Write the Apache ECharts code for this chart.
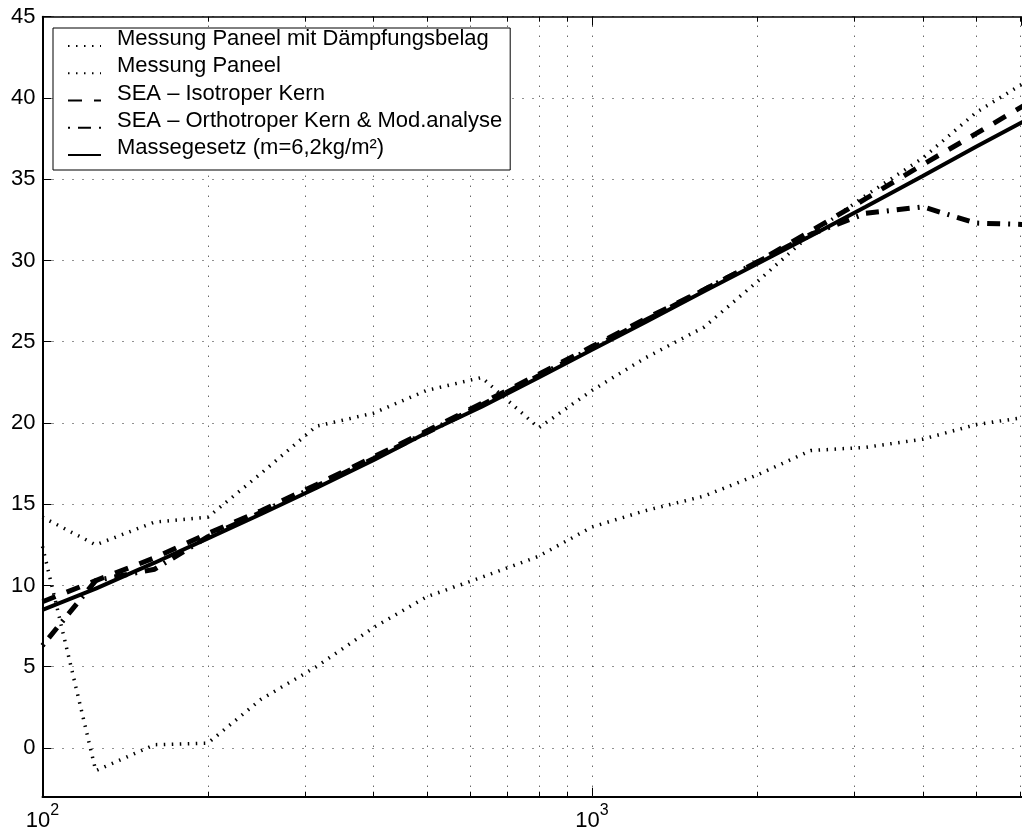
<!DOCTYPE html>
<html>
<head>
<meta charset="utf-8">
<script src="https://cdn.jsdelivr.net/npm/echarts@6/dist/echarts.min.js"></script>
<style>
  html, body { margin: 0; padding: 0; background: #fff; }
  #chart { width: 1022px; height: 832px; }
</style>
</head>
<body>
<div id="chart"></div>
<script>
// Third-octave band centre frequencies (Hz)
const freqs = [100, 125, 160, 200, 250, 315, 400, 500, 630, 800, 1000, 1250, 1600, 2000, 2500, 3150, 4000, 5000, 6300];

// Sound reduction index R (dB) per band
const dampedPanel   = [14.2, 12.5, 13.9, 14.2, 16.9, 19.8, 20.6, 22.0, 22.8, 19.7, 22.0, 24.0, 25.9, 28.7, 31.6, 34.0, 36.3, 39.1, 41.2];
const plainPanel    = [12.4, -1.4, 0.2, 0.3, 3.0, 5.0, 7.4, 9.3, 10.5, 11.8, 13.6, 14.6, 15.5, 16.8, 18.3, 18.5, 19.0, 19.9, 20.4];
const seaIsotropic  = [9.0, 10.3, 11.7, 13.2, 14.6, 16.2, 17.9, 19.5, 21.2, 23.0, 24.7, 26.4, 28.2, 29.9, 31.8, 33.8, 35.9, 37.8, 39.8];
const seaOrthotropic= [6.3, 10.3, 11.0, 13.0, 14.5, 16.1, 17.8, 19.4, 21.1, 22.9, 24.6, 26.3, 28.2, 29.9, 31.6, 32.9, 33.3, 32.3, 32.2];
const massLaw       = [8.5, 9.8, 11.4, 12.9, 14.4, 16.0, 17.7, 19.4, 21.0, 22.8, 24.5, 26.2, 28.1, 29.8, 31.5, 33.3, 35.2, 37.0, 38.8];

const seriesNames = [
  'Messung Paneel mit Dämpfungsbelag',
  'Messung Paneel',
  'SEA – Isotroper Kern',
  'SEA – Orthotroper Kern & Mod.analyse',
  'Massegesetz (m=6,2kg/m²)'
];

// Axis ranges and log-axis grid positions
const xRange = [100, 6050];
const yRange = [-3, 45];
const xMajorTicks = [100, 1000];
const xMinorTicks = [200, 300, 400, 500, 600, 700, 800, 900, 2000, 3000, 4000, 5000, 6000];

const FONT = '"Liberation Sans", Arial, Helvetica, sans-serif';

function pairs(values) {
  return freqs.map((f, i) => [f, values[i]]);
}

const chart = echarts.init(document.getElementById('chart'), null, { renderer: 'canvas' });

const gridLineStyle = { stroke: '#222', lineWidth: 1, lineDash: [1, 9] };

// Vertical grid lines at every decade subdivision, with short inward ticks top and bottom
function renderGrid(params, api) {
  const f = api.value(0);
  const major = api.value(1) === 1;
  const b = api.coord([f, yRange[0]]);
  const t = api.coord([f, yRange[1]]);
  const x = Math.round(b[0]) + 0.5;
  const len = major ? 0 : 5;
  const children = [
    { type: 'line', shape: { x1: x, y1: b[1], x2: x, y2: t[1] }, style: gridLineStyle, silent: true }
  ];
  if (len) {
    children.push({ type: 'line', shape: { x1: x, y1: b[1], x2: x, y2: b[1] - len }, style: { stroke: '#000', lineWidth: 1 } });
    children.push({ type: 'line', shape: { x1: x, y1: t[1], x2: x, y2: t[1] + len }, style: { stroke: '#000', lineWidth: 1 } });
  }
  return { type: 'group', children };
}

const gridData = xMajorTicks.slice(1).map(f => [f, 1]).concat(xMinorTicks.map(f => [f, 0]));

const dotted = { color: '#000', width: 3.5, type: [1.5, 6.5], cap: 'butt' };

const option = {
  animation: false,
  backgroundColor: '#fff',
  grid: {
    left: 42.5, right: 0.5, top: 16.7, bottom: 35.3,
    containLabel: false,
    outerBoundsMode: 'none'
  },
  legend: {
    show: true,
    orient: 'vertical',
    left: 53, top: 28,
    padding: [0, 8, 0, 14],
    itemWidth: 33, itemHeight: 14,
    itemGap: -5.75,
    backgroundColor: '#fff',
    borderColor: '#000', borderWidth: 1, borderRadius: 0,
    selectedMode: false,
    data: seriesNames,
    itemStyle: { opacity: 0 },
    formatter: function (name) { return '{t|' + name + '}'; },
    textStyle: {
      color: '#000', fontSize: 22, fontFamily: FONT,
      rich: {
        t: { color: '#000', fontSize: 22, fontFamily: FONT, height: 16, lineHeight: 16, padding: [0, 0, 14, 11] }
      }
    }
  },
  xAxis: [
    {
      type: 'log', logBase: 10,
      min: xRange[0], max: xRange[1],
      position: 'bottom',
      axisLine: { show: true, onZero: false, lineStyle: { color: '#000', width: 2 } },
      axisTick: { show: true, inside: true, length: 9, lineStyle: { color: '#000', width: 1 } },
      splitLine: { show: false },
      minorTick: { show: false },
      axisLabel: {
        show: true, margin: 6, color: '#000', fontFamily: FONT,
        showMinLabel: true, showMaxLabel: false, hideOverlap: false,
        formatter: function (v) {
          const e = Math.round(Math.log10(v));
          if (Math.abs(Math.log10(v) - e) > 1e-6) return '';
          return '{base|10}{sup|' + e + '}';
        },
        rich: {
          base: { fontSize: 22, lineHeight: 36, fontFamily: FONT, color: '#000' },
          sup: { fontSize: 16, lineHeight: 14, verticalAlign: 'top', fontFamily: FONT, color: '#000' }
        }
      }
    },
    {
      type: 'log', logBase: 10,
      min: xRange[0], max: xRange[1],
      position: 'top',
      axisLine: { show: true, onZero: false, lineStyle: { color: '#000', width: 1.5 } },
      axisTick: { show: true, inside: true, length: 9, lineStyle: { color: '#000', width: 1 } },
      splitLine: { show: false },
      axisLabel: { show: false }
    }
  ],
  yAxis: {
    type: 'value',
    min: yRange[0], max: yRange[1],
    splitNumber: 10,
    axisLine: { show: true, onZero: false, lineStyle: { color: '#000', width: 2 } },
    axisTick: { show: true, inside: true, length: 9, lineStyle: { color: '#000', width: 1 } },
    splitLine: { show: true, lineStyle: { color: '#222', width: 1, type: [1, 9] } },
    axisLabel: {
      show: true, margin: 7, color: '#000', fontSize: 22, fontFamily: FONT,
      showMinLabel: true, showMaxLabel: true, hideOverlap: false,
      formatter: function (v) { return v % 5 === 0 ? String(v) : ''; }
    }
  },
  series: [
    {
      type: 'custom', name: 'grid', z: 1, silent: true,
      xAxisIndex: 0, yAxisIndex: 0,
      renderItem: renderGrid,
      encode: { x: 0, y: -1 },
      data: gridData,
      clip: false
    },
    {
      type: 'line', name: seriesNames[0], data: pairs(dampedPanel),
      symbol: 'none', smooth: false, z: 2, clip: true,
      lineStyle: dotted,
      itemStyle: { color: '#000' }
    },
    {
      type: 'line', name: seriesNames[1], data: pairs(plainPanel),
      symbol: 'none', smooth: false, z: 2, clip: true,
      lineStyle: dotted,
      itemStyle: { color: '#000' }
    },
    {
      type: 'line', name: seriesNames[2], data: pairs(seaIsotropic),
      symbol: 'none', smooth: false, z: 3, clip: true,
      lineStyle: { color: '#000', width: 5, type: [14, 12], cap: 'butt' },
      itemStyle: { color: '#000' }
    },
    {
      type: 'line', name: seriesNames[3], data: pairs(seaOrthotropic),
      symbol: 'none', smooth: false, z: 3, clip: true,
      lineStyle: { color: '#000', width: 5, type: [13, 8, 2, 8], dashOffset: 21, cap: 'butt' },
      itemStyle: { color: '#000' }
    },
    {
      type: 'line', name: seriesNames[4], data: pairs(massLaw),
      symbol: 'none', smooth: false, z: 4, clip: true,
      lineStyle: { color: '#000', width: 4, type: 'solid' },
      itemStyle: { color: '#000' }
    }
  ]
};

chart.setOption(option);
</script>
</body>
</html>
